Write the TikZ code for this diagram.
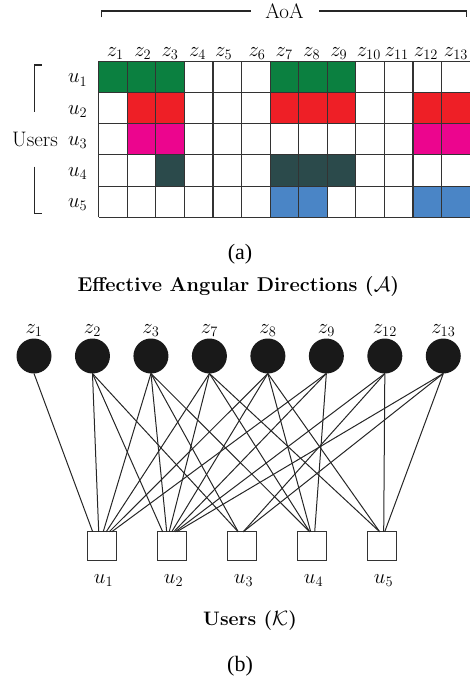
\documentclass[tikz,border=0pt]{standalone}
\usepackage{fontspec}
\newfontfamily\capfont{Liberation Serif}
\definecolor{colG}{HTML}{0B8040}
\definecolor{colR}{HTML}{EE1F26}
\definecolor{colM}{HTML}{EC058E}
\definecolor{colD}{HTML}{2B4A4B}
\definecolor{colB}{HTML}{4A85C6}
\definecolor{colGrid}{HTML}{333333}
\begin{document}
\begin{tikzpicture}[x=1pt,y=-1pt,
  laba/.style={inner sep=0pt,outer sep=0pt,font=\fontsize{21}{25}\selectfont},
  labb/.style={inner sep=0pt,outer sep=0pt,font=\fontsize{19.5}{23}\selectfont},
  boldl/.style={inner sep=0pt,outer sep=0pt,font=\fontsize{20}{24}\selectfont\bfseries},
  capt/.style={inner sep=0pt,outer sep=0pt,font=\capfont\fontsize{22}{26}\selectfont},
  gridl/.style={draw=colGrid,line width=1.2pt},
  brk/.style={draw=black!85,line width=1.3pt},
  dot/.style={circle,fill=black!90,draw=none,minimum size=35pt,inner sep=0pt,outer sep=0pt},
  usq/.style={rectangle,draw=black!80,line width=1.3pt,fill=white,minimum size=29pt,inner sep=0pt,outer sep=0pt},
  edge/.style={draw=black!85,line width=1pt}]
\useasboundingbox (0,0) rectangle (469,679);

% ---------- (a) grid ----------
\foreach \r/\cols/\col in {1/{1,2,3,7,8,9}/colG, 2/{2,3,7,8,9,12,13}/colR, 3/{2,3,12,13}/colM, 4/{3,7,8,9}/colD, 5/{7,8,12,13}/colB}{
  \foreach \c in \cols {
    \fill[fill=\col] ({98.7+(\c-1)*28.57},{61.3+(\r-1)*31.2}) rectangle ++(28.57,31.2);
  }
}
\foreach \i in {0,...,13} \draw[gridl] ({98.7+\i*28.57},61.3) -- ++(0,156);
\foreach \j in {0,...,5} \draw[gridl] (98.7,{61.3+\j*31.2}) -- (472,{61.3+\j*31.2});

% column labels
\foreach \x/\n in {115.3/1,142.8/2,170/3,197.5/4,223.7/5,257/6,284.2/7,311.7/8,338.8/9,368.8/10,396.7/11,426/12,456/13}
  \node[laba,anchor=base] (zl\n) at (\x,56.5) {$z_{\n}$};

% row labels
\foreach \k in {1,...,5}
  \node[laba,anchor=base] (ul\k) at (77.7,{77+(\k-1)*31.2+6}) {$u_{\k}$};

% AoA bracket
\node[laba,anchor=base] (aoa) at (284.5,18.3) {AoA};
\draw[brk] (101.7,17.5) -- (101.7,11) -- (250.5,11);
\draw[brk] (319,11) -- (466.7,11) -- (466.7,17.5);

% Users bracket
\node[laba,anchor=base] (users) at (35,146.7) {Users};
\draw[brk] (41.5,65) -- (34.3,65) -- (34.3,111.7);
\draw[brk] (34.3,166.7) -- (34.3,213.3) -- (41.5,213.3);

\node[capt,anchor=base] (capa) at (240,259.5) {(a)};

% ---------- (b) graph ----------
\node[boldl,anchor=base] (ttl) at (238.3,291.7) {Effective Angular Directions ($\mathcal{A}$)};

\foreach \n/\i in {1/0,2/1,3/2,7/3,8/4,9/5,12/6,13/7}{
  \node[dot] (c\n) at ({34+\i*58.47},356) {};
  \node[labb,anchor=base] (cl\n) at ({34+\i*58.47},333) {$z_{\n}$};
}
\foreach \k in {1,...,5}{
  \node[usq] (s\k) at ({101.7+(\k-1)*70},546.3) {};
  \node[labb,anchor=base] (sl\k) at ({103.5+(\k-1)*70},583) {$u_{\k}$};
}
\foreach \a/\b/\o in {1/1/-9, 2/1/-3, 3/1/1.5, 7/1/4.5, 8/1/7.5, 9/1/10,
  2/2/-9, 3/2/-5, 7/2/-2.5, 8/2/0, 9/2/2, 12/2/3.5, 13/2/5,
  2/3/-3.5, 3/3/-3.5, 12/3/1.5, 13/3/1.5,
  3/4/-2, 7/4/-2, 8/4/-1, 9/4/3,
  7/5/-2, 8/5/-2, 12/5/2, 13/5/3}
  \draw[edge] (c\a.south) -- ([xshift=\o pt]s\b.north);

\node[boldl,anchor=base,font=\fontsize{19.5}{23}\selectfont\bfseries] (ut) at (250,625) {Users ($\mathcal{K}$)};
\node[capt,anchor=base] (capb) at (240,671.2) {(b)};
\end{tikzpicture}
\end{document}
